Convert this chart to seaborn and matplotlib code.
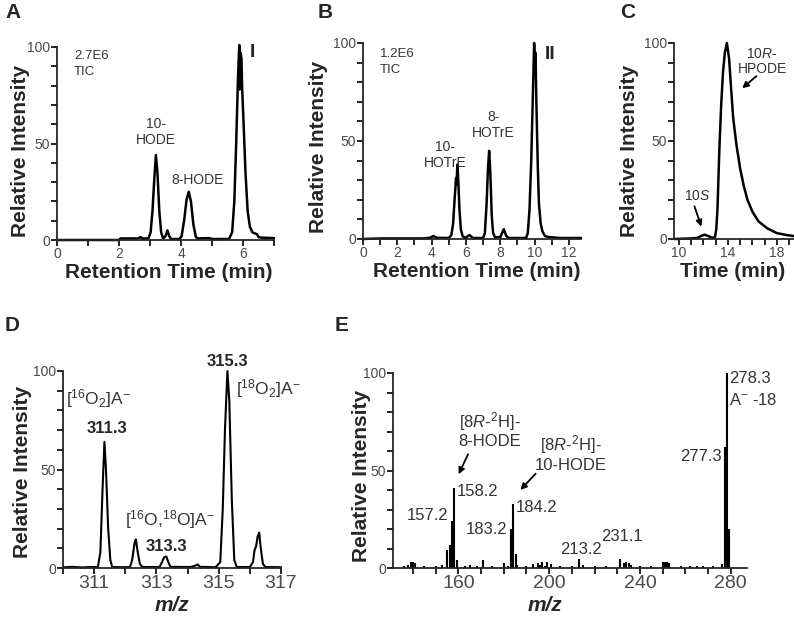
import matplotlib
matplotlib.use('Agg')
import matplotlib.pyplot as plt
import seaborn as sns
from matplotlib.ticker import MultipleLocator, FixedLocator

# ---- panel A: TIC chromatogram (time min, relative intensity %)
a_time = [0.0, 2.0, 2.05, 2.6, 2.7, 2.75, 2.95, 3.02, 3.08, 3.14, 3.19, 3.24, 3.3, 3.36,
          3.42, 3.5, 3.56, 3.62, 3.68, 3.95, 4.02, 4.1, 4.18, 4.25, 4.32, 4.4, 4.48, 4.55,
          4.9, 5.0, 5.55, 5.65, 5.72, 5.78, 5.84, 5.88, 5.9, 5.92, 5.95, 5.97, 6.02, 6.08,
          6.15, 6.22, 6.3, 6.45, 6.5, 6.6, 7.0]
a_int = [0, 0, 0.8, 0.8, 1.5, 0.8, 0.8, 4, 15, 32, 44, 35, 15, 4,
         0.8, 2, 5, 2, 0.5, 0.5, 2, 10, 21, 25, 20, 8, 1.5, 0.8,
         1, 0.5, 0.5, 4, 20, 50, 85, 101, 78, 97, 94, 80, 60, 35,
         15, 7, 4, 3, 1.5, 1.2, 1]

# ---- panel B: TIC chromatogram
b_time = [0, 1, 3.5, 3.9, 4.1, 4.3, 5.0, 5.15, 5.25, 5.35, 5.42, 5.45, 5.5, 5.55, 5.62,
          5.7, 5.8, 5.95, 6.2, 6.4, 7.0, 7.1, 7.2, 7.28, 7.35, 7.42, 7.5, 7.58, 7.7, 8.0,
          8.2, 8.35, 8.5, 9.5, 9.6, 9.7, 9.8, 9.9, 9.97, 10.02, 10.05, 10.1, 10.18, 10.25,
          10.35, 10.45, 10.6, 10.8, 11.5, 12.7]
b_int = [0, 0.3, 0.3, 0.6, 1.5, 0.6, 0.5, 2, 8, 22, 31, 28, 38, 30, 15,
         5, 1.5, 0.5, 2, 0.5, 0.5, 3, 18, 36, 45, 33, 12, 3, 0.8, 1,
         5, 1.5, 0.5, 0.5, 3, 15, 40, 75, 100, 88, 95, 70, 38, 18,
         8, 4, 1.5, 1, 0.5, 0.5]

# ---- panel C: chiral chromatogram
c_time = [9.6, 11.0, 11.5, 11.8, 12.1, 12.4, 12.7, 12.95, 13.05, 13.15, 13.3, 13.45, 13.6,
          13.75, 13.92, 14.1, 14.25, 14.43, 14.7, 15.0, 15.3, 15.6, 16.0, 16.5, 17.2, 18.0,
          18.8, 19.4]
c_int = [0, 0.3, 0.5, 1.5, 2.2, 1.5, 0.6, 1, 5, 15, 45, 68, 85,
         95, 100, 92, 78, 62, 48, 36, 27, 20, 14, 9, 5.5, 3,
         2, 1.5]

# ---- panel D: molecular ion region (m/z, relative intensity %)
d_mz = [310.0, 310.3, 310.6, 310.9, 311.12, 311.2, 311.27, 311.33, 311.38, 311.45, 311.52,
        311.58, 311.9, 312.15, 312.22, 312.3, 312.34, 312.4, 312.47, 312.55, 313.1, 313.18,
        313.25, 313.32, 313.38, 313.45, 314.1, 314.25, 314.32, 314.4, 314.9, 315.05, 315.13,
        315.2, 315.28, 315.34, 315.42, 315.5, 315.58, 316.0, 316.1, 316.15, 316.2, 316.25,
        316.3, 316.35, 316.42, 316.5, 317.0]
d_int = [0.3, 0.6, 0.3, 0.5, 0.5, 8, 40, 64, 50, 20, 4,
         0.5, 0.4, 0.5, 4, 13, 14.5, 8, 2, 0.5, 0.5, 3,
         5.5, 5.8, 3, 0.6, 0.5, 1.2, 1.8, 0.6, 0.4, 3, 30,
         70, 100, 85, 35, 4, 0.5, 0.5, 3, 9, 11, 16,
         18, 10, 2, 0.5, 0.4]

# ---- panel E: MS/MS spectrum sticks
e_mz = [136, 138, 139, 140, 141, 145, 150, 153, 155.2, 156.2, 157.2, 158.2, 159.2, 163, 165,
        168, 171, 175, 180, 182, 183.2, 184.2, 185.2, 186, 190, 193, 195, 196, 197, 198,
        199, 201, 205, 210, 213.2, 215, 220, 225, 231.1, 233, 234, 235, 236, 240, 245,
        250, 251, 252, 253, 258, 262, 265, 268, 272, 276, 277.3, 278.3, 279.3]
e_int = [1, 1.5, 3, 3, 2.5, 0.8, 0.8, 1.5, 9, 12, 24, 41, 4, 1, 1.5,
         1, 4, 1, 2.5, 1, 20, 33, 7, 1.5, 1, 2, 2.5, 1.5, 3, 1,
         3, 2, 1, 1, 4.5, 1.5, 1, 1, 4.5, 2.5, 3, 2.5, 1.5, 1, 1,
         3, 3, 3, 2.5, 1, 0.8, 1, 1, 0.8, 2, 62, 100, 20]

sns.set_style('ticks')
plt.rcParams['font.family'] = ['Liberation Sans', 'DejaVu Sans']
plt.rcParams['mathtext.fontset'] = 'custom'
plt.rcParams['mathtext.rm'] = 'Liberation Sans'
plt.rcParams['mathtext.it'] = 'Liberation Sans:italic'
plt.rcParams['mathtext.bf'] = 'Liberation Sans:bold'
plt.rcParams['mathtext.default'] = 'regular'

W, H = 794, 626
fig = plt.figure(figsize=(W / 100, H / 100), dpi=100)

TICK_GRAY = '#4a4a4a'
TXT = '#333333'


def rect(l, r, t, b):
    return [l / W, 1 - b / H, (r - l) / W, (b - t) / H]


def setup(ax, xlim, xmajor, xminor, xlabel, xsize, ylab_pos, xlab_pos, italic=False):
    ax.set_xlim(*xlim)
    ax.set_ylim(0, 100)
    ax.xaxis.set_major_locator(FixedLocator(xmajor))
    ax.xaxis.set_minor_locator(MultipleLocator(xminor))
    ax.yaxis.set_major_locator(FixedLocator([0, 50, 100]))
    ax.yaxis.set_minor_locator(MultipleLocator(10))
    ax.tick_params(which='both', direction='out', length=4, width=1.2, color='black')
    ax.tick_params(axis='x', which='major', labelsize=xsize, labelcolor=TICK_GRAY, pad=1)
    ax.tick_params(axis='y', which='major', labelsize=10, labelcolor=TICK_GRAY, pad=1)
    sns.despine(ax=ax)
    for s in ['left', 'bottom']:
        ax.spines[s].set_linewidth(1.3)
    ax.set_ylabel('Relative Intensity', fontsize=15, fontweight='bold', va='center')
    ax.yaxis.set_label_coords(*ylab_pos)
    ax.set_xlabel(xlabel, fontsize=15, fontweight='bold', va='center',
                  fontstyle='italic' if italic else 'normal')
    ax.xaxis.set_label_coords(*xlab_pos)


def trace(ax, x, y, lw=1.8):
    sns.lineplot(x=x, y=y, ax=ax, color='black', lw=lw, estimator=None, sort=False)
    for ln in ax.lines:
        ln.set_clip_on(False)


# ---- A
axA = fig.add_axes(rect(57, 274, 47, 240))
trace(axA, a_time, a_int)
setup(axA, (0, 7), [0, 2, 4, 6], 1, 'Retention Time (min)', 10, (-0.166, 0.46), (0.516, -0.168))
axA.text(0.55, 91, '2.7E6\nTIC', fontsize=9.5, color=TXT, ha='left', va='center', linespacing=1.45)
axA.text(3.2, 56, '10-\nHODE', fontsize=10, color=TXT, ha='center', va='center', linespacing=1.15)
axA.text(4.53, 31, '8-HODE', fontsize=10, color=TXT, ha='center', va='center')
axA.text(6.3, 97, 'I', fontsize=14, fontweight='bold', ha='center', va='center')

# ---- B
axB = fig.add_axes(rect(363, 581, 43, 239))
trace(axB, b_time, b_int)
setup(axB, (0, 12.7), [0, 2, 4, 6, 8, 10, 12], 1, 'Retention Time (min)', 10,
      (-0.206, 0.47), (0.523, -0.168))
axB.text(1.0, 90.5, '1.2E6\nTIC', fontsize=9.5, color=TXT, ha='left', va='center', linespacing=1.45)
axB.text(4.77, 43, '10-\nHOTrE', fontsize=10, color=TXT, ha='center', va='center', linespacing=1.15)
axB.text(7.58, 58, '8-\nHOTrE', fontsize=10, color=TXT, ha='center', va='center', linespacing=1.15)
axB.text(10.9, 94, 'II', fontsize=14, fontweight='bold', ha='center', va='center')

# ---- C
axC = fig.add_axes(rect(674, 794, 43, 239))
trace(axC, c_time, c_int)
setup(axC, (9.6, 19.4), [10, 14, 18], 1, 'Time (min)', 10, (-0.367, 0.45), (0.49, -0.168))
axC.text(16.8, 90.5, '10$\\mathit{R}$-\nHPODE', fontsize=10, color=TXT, ha='center',
         va='center', linespacing=1.15)
axC.annotate('', xy=(15.0, 76), xytext=(16.5, 84),
             arrowprops=dict(arrowstyle='-|>', color='black', lw=1.3, mutation_scale=9))
axC.text(11.5, 22, '10$\\mathit{S}$', fontsize=10, color=TXT, ha='center', va='center')
axC.annotate('', xy=(11.9, 5), xytext=(11.2, 18),
             arrowprops=dict(arrowstyle='-|>', color='black', lw=1.3, mutation_scale=9))

# ---- D
axD = fig.add_axes(rect(63, 281, 371, 568))
trace(axD, d_mz, d_int, lw=1.5)
setup(axD, (310, 317), [311, 313, 315, 317], 1, 'm/z', 14, (-0.188, 0.49), (0.5, -0.19), italic=True)
axD.text(311.14, 86, '[$^{16}$O$_2$]A$^{-}$', fontsize=12.5, color=TXT, ha='center', va='center')
axD.text(311.4, 71, '311.3', fontsize=12, fontweight='bold', ha='center', va='center')
axD.text(313.43, 24.4, '[$^{16}$O,$^{18}$O]A$^{-}$', fontsize=12.5, color=TXT, ha='center', va='center')
axD.text(313.32, 10.8, '313.3', fontsize=12, fontweight='bold', ha='center', va='center')
axD.text(315.27, 105, '315.3', fontsize=12, fontweight='bold', ha='center', va='center')
axD.text(315.56, 91, '[$^{18}$O$_2$]A$^{-}$', fontsize=12.5, color=TXT, ha='left', va='center')

# ---- E
axE = fig.add_axes(rect(393, 747, 373, 568))
axE.vlines(e_mz, 0, e_int, color='black', lw=1.5)
setup(axE, (131.2, 287.2), [160, 200, 240, 280], 10, 'm/z', 14, (-0.088, 0.47), (0.43, -0.19),
      italic=True)
axE.text(279.3, 97, '278.3', fontsize=12, color=TXT, ha='left', va='center')
axE.text(279.3, 86, 'A$^{-}$ -18', fontsize=12, color=TXT, ha='left', va='center')
axE.text(276.0, 57, '277.3', fontsize=12, color=TXT, ha='right', va='center')
axE.text(159.5, 39, '158.2', fontsize=12, color=TXT, ha='left', va='center')
axE.text(155.5, 27, '157.2', fontsize=12, color=TXT, ha='right', va='center')
axE.text(181.5, 20, '183.2', fontsize=12, color=TXT, ha='right', va='center')
axE.text(185.3, 31, '184.2', fontsize=12, color=TXT, ha='left', va='center')
axE.text(214, 9.6, '213.2', fontsize=12, color=TXT, ha='center', va='center')
axE.text(232, 16, '231.1', fontsize=12, color=TXT, ha='center', va='center')
axE.text(173.7, 71, '[8$\\mathit{R}$-$^{2}$H]-\n8-HODE', fontsize=12, color=TXT, ha='center',
         va='center', linespacing=1.1)
axE.text(209.7, 59, '[8$\\mathit{R}$-$^{2}$H]-\n10-HODE', fontsize=12, color=TXT, ha='center',
         va='center', linespacing=1.1)
axE.annotate('', xy=(159.6, 46.8), xytext=(164.8, 59.6),
             arrowprops=dict(arrowstyle='-|>', color='black', lw=1.3, mutation_scale=9))
axE.annotate('', xy=(186.5, 39), xytext=(194.9, 49.4),
             arrowprops=dict(arrowstyle='-|>', color='black', lw=1.3, mutation_scale=9))

# panel letters
for lab, x, y in [('A', 5, 3), ('B', 318, 3), ('C', 620, 3), ('D', 5, 316), ('E', 335, 316)]:
    fig.text(x / W, 1 - y / H, lab, fontsize=15, fontweight='bold', ha='left', va='top')

fig.savefig('out.png', dpi=100)
